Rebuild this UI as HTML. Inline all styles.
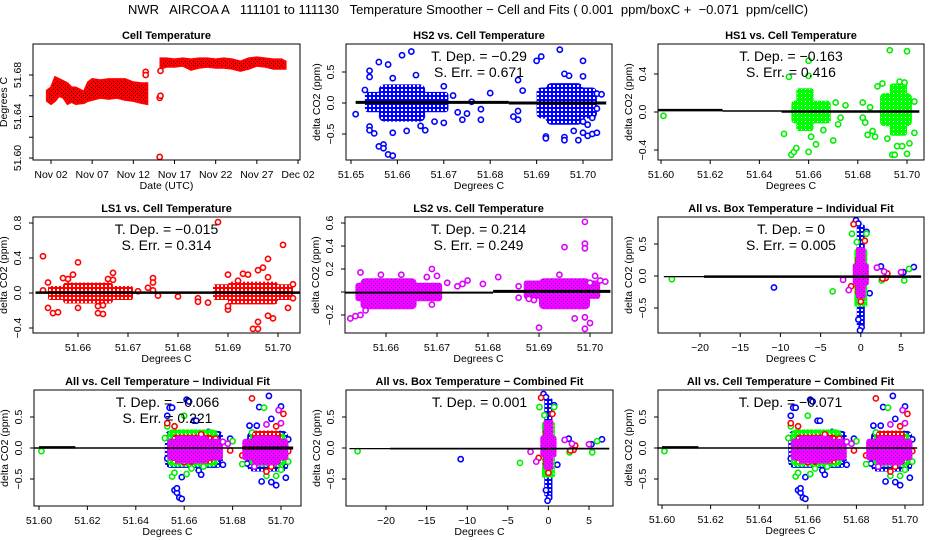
<!DOCTYPE html>
<html><head><meta charset="utf-8"><style>
html,body{margin:0;padding:0;background:#fff;width:936px;height:540px;overflow:hidden}
svg text{font-family:"Liberation Sans",sans-serif}
</style></head><body>
<svg id="chart" xmlns="http://www.w3.org/2000/svg" width="936" height="540" viewBox="0 0 936 540">
<defs>
<pattern id="pat-red1" width="4" height="4" patternUnits="userSpaceOnUse"><rect width="4" height="4" fill="#ff0000"/><rect x="1" y="1" width="1" height="1" fill="#300"/><rect x="3" y="3" width="1" height="1" fill="#300"/></pattern>
<pattern id="pat-red" width="4" height="4" patternUnits="userSpaceOnUse"><rect width="4" height="4" fill="#ff0000"/><rect x="1" y="1" width="2" height="2" fill="#fff"/></pattern>
<pattern id="pat-blue" width="4" height="4" patternUnits="userSpaceOnUse"><rect width="4" height="4" fill="#0000ff"/><rect x="1" y="1" width="2" height="2" fill="#fff"/></pattern>
<pattern id="pat-green" width="4" height="4" patternUnits="userSpaceOnUse"><rect width="4" height="4" fill="#00ff00"/><rect x="1" y="1" width="1" height="1" fill="#fff"/></pattern>
<pattern id="pat-magenta" width="4" height="4" patternUnits="userSpaceOnUse"><rect width="4" height="4" fill="#ff00ff"/><rect x="1" y="1" width="1" height="1" fill="#3030ff"/><rect x="3" y="3" width="1" height="1" fill="#3030ff"/></pattern>
</defs>
<text x="468" y="14" font-size="13" text-anchor="middle" xml:space="preserve">NWR   AIRCOA A   111101 to 111130   Temperature Smoother − Cell and Fits ( 0.001  ppm/boxC +  −0.071  ppm/cellC)</text>
</svg>
<script>
// ---------- Panel 1: cell temperature time series (day offset from Nov 01) ----------
const p1Days = [0.5,1,1.5,2,2.5,3,3.5,4,5,5.5,6,7,8,9,10,11,12,12.7];
const p1Low  = [51.655,51.652,51.655,51.660,51.658,51.652,51.654,51.652,51.653,51.655,51.656,51.658,51.657,51.658,51.656,51.655,51.653,51.652];
const p1High = [51.665,51.668,51.678,51.676,51.674,51.672,51.668,51.668,51.664,51.673,51.676,51.675,51.676,51.676,51.676,51.673,51.672,51.672];
const p1Days2 = [14.3,15,16,17,18,19,20,21,22,23,24,25,26,27,28,29,29.5];
const p1Low2  = [51.686,51.688,51.688,51.689,51.685,51.687,51.688,51.687,51.687,51.686,51.684,51.686,51.689,51.688,51.686,51.686,51.686];
const p1High2 = [51.696,51.696,51.695,51.696,51.695,51.696,51.696,51.695,51.696,51.695,51.693,51.696,51.697,51.696,51.695,51.695,51.693];
const p1OutX = [14.2,14.2,14.3,12.5,12.5,14.3];
const p1OutY = [51.601,51.658,51.660,51.683,51.680,51.684];
const p1TickLabels = ["Nov 02","Nov 07","Nov 12","Nov 17","Nov 22","Nov 27","Dec 02"];
const p1TickDays = [1,6,11,16,21,26,31];

// ---------- Scatter outliers ----------
const p2Blue = [[51.651,-0.18],[51.653,0.21],[51.654,0.52],[51.654,0.42],[51.654,-0.38],[51.654,-0.44],[51.655,-0.49],[51.656,0.66],[51.656,-0.70],[51.657,-0.67],[51.657,-0.73],[51.658,0.62],[51.658,-0.83],[51.659,-0.85],[51.659,-0.48],[51.659,0.40],[51.661,0.77],[51.662,-0.45],[51.663,0.83],[51.664,0.45],[51.665,-0.37],[51.666,-0.44],[51.668,-0.30],[51.670,0.27],[51.670,-0.32],[51.672,0.12],[51.673,-0.15],[51.674,-0.27],[51.675,-0.17],[51.676,0.02],[51.678,-0.10],[51.678,-0.27],[51.680,0.16],[51.685,-0.22],[51.686,-0.27],[51.686,0.37],[51.686,-0.13],[51.687,0.20],[51.690,0.68],[51.691,0.75],[51.692,-0.54],[51.692,-0.57],[51.695,0.86],[51.696,0.47],[51.696,-0.55],[51.696,-0.60],[51.697,0.44],[51.698,-0.45],[51.699,-0.60],[51.700,0.68],[51.700,0.43],[51.700,-0.48],[51.701,-0.53],[51.702,-0.50],[51.703,-0.48],[51.703,0.15],[51.704,0.14],[51.703,-0.09],[51.700,-0.30],[51.701,-0.35],[51.702,-0.24]];
const p2Clusters = [[51.653,51.671,-0.15,0.18],[51.656,51.666,-0.3,0.3],[51.690,51.703,-0.25,0.25],[51.692,51.700,-0.35,0.32]];
const p3Green = [[51.601,-0.04],[51.652,0.37],[51.653,-0.45],[51.654,-0.42],[51.655,-0.38],[51.650,-0.23],[51.660,0.54],[51.660,0.38],[51.660,-0.42],[51.661,-0.26],[51.663,-0.34],[51.666,-0.19],[51.670,-0.30],[51.671,0.10],[51.672,-0.13],[51.673,-0.06],[51.675,0.07],[51.682,0.10],[51.682,-0.06],[51.683,-0.11],[51.684,-0.24],[51.685,0.05],[51.686,-0.20],[51.687,-0.26],[51.688,0.27],[51.690,0.30],[51.692,-0.28],[51.693,0.65],[51.694,-0.45],[51.695,-0.45],[51.696,-0.36],[51.698,-0.36],[51.700,-0.44],[51.700,0.64],[51.701,-0.33],[51.703,-0.22],[51.703,0.11],[51.697,0.32],[51.699,0.31]];
const p3Clusters = [[51.653,51.669,-0.12,0.12],[51.655,51.662,-0.2,0.25],[51.689,51.702,-0.15,0.2],[51.693,51.700,-0.25,0.3]];
const p4Red = [[51.653,0.42],[51.653,0.03],[51.654,-0.17],[51.655,-0.23],[51.656,-0.22],[51.659,0.21],[51.660,0.35],[51.660,-0.17],[51.664,-0.15],[51.664,-0.23],[51.665,-0.24],[51.667,0.23],[51.667,0.15],[51.672,0.02],[51.674,0.06],[51.675,0.17],[51.675,0.12],[51.675,0.03],[51.676,-0.03],[51.680,-0.04],[51.684,-0.06],[51.684,-0.10],[51.686,-0.11],[51.688,0.81],[51.690,0.21],[51.690,-0.19],[51.690,-0.15],[51.693,0.22],[51.694,0.21],[51.695,-0.41],[51.696,-0.41],[51.696,-0.33],[51.696,0.26],[51.697,0.29],[51.698,0.39],[51.698,-0.26],[51.699,-0.29],[51.701,0.55],[51.702,-0.17],[51.703,0.10],[51.703,-0.06],[51.698,0.18],[51.692,0.14],[51.658,0.16],[51.657,0.17],[51.666,0.16],[51.654,0.12],[51.665,-0.14]];
const p4Clusters = [[51.654,51.671,-0.08,0.08],[51.657,51.667,-0.12,0.12],[51.687,51.703,-0.08,0.1],[51.690,51.700,-0.13,0.13]];
const p5Magenta = [[51.653,-0.23],[51.654,-0.21],[51.655,0.17],[51.655,-0.2],[51.656,-0.16],[51.659,0.15],[51.663,0.15],[51.668,0.13],[51.669,0.20],[51.669,-0.11],[51.670,0.14],[51.672,0.08],[51.674,0.05],[51.675,0.07],[51.676,0.10],[51.679,0.07],[51.682,0.13],[51.686,-0.05],[51.686,0.05],[51.688,-0.06],[51.689,-0.07],[51.690,-0.31],[51.695,0.39],[51.697,-0.23],[51.699,0.61],[51.699,0.42],[51.699,0.38],[51.699,-0.22],[51.699,-0.32],[51.700,-0.27],[51.700,0.08],[51.701,0.14],[51.702,0.10],[51.703,0.09],[51.694,0.15]];
const p5Clusters = [[51.654,51.671,-0.08,0.08],[51.655,51.666,-0.15,0.12],[51.687,51.702,-0.06,0.1],[51.690,51.700,-0.15,0.12]];
// box temperature (panels 6 & 8)
const boxGreen = [[-23.5,-0.05],[-3.5,-0.24],[2.6,-0.07],[5.4,-0.07],[6.0,0.11],[-1.1,0.66],[0.7,0.66],[-0.5,0.53]];
const boxBlue = [[-10.8,-0.18],[2.5,0.15],[5.3,0.06],[6.6,0.14],[-0.6,0.87],[0.7,0.69],[-0.3,0.82],[1.1,-0.27],[-0.3,-0.68],[0.1,-0.80],[-0.1,-0.85]];
const boxRed = [[-0.9,0.81],[0.5,0.55],[3.3,0.04],[3.1,-0.03],[2.7,-0.04],[-1.2,-0.16],[0.0,-0.40]];
const boxMagenta = [[-2.2,-0.06],[-1.5,-0.22],[2.0,0.13],[2.9,0.07],[5.0,0.06]];
const boxClBlue = [[-0.5,0.5,-0.78,0.8]];
const boxClGreen = [[-0.8,0.8,-0.48,0.42]];
const boxClRed = [[-0.7,0.6,-0.3,0.3]];
const boxClMagenta = [[-1.0,1.0,-0.15,0.2],[-0.6,0.6,-0.35,0.45]];
// cell temperature, all (panels 7 & 9)
const cellBlue = [[51.653,0.52],[51.654,0.65],[51.655,0.65],[51.656,-0.68],[51.657,-0.72],[51.657,-0.65],[51.658,-0.80],[51.659,-0.82],[51.659,-0.47],[51.661,0.78],[51.662,0.75],[51.664,0.44],[51.665,0.44],[51.666,-0.36],[51.667,-0.43],[51.670,0.26],[51.672,-0.25],[51.674,-0.17],[51.676,-0.27],[51.679,0.15],[51.687,0.36],[51.690,0.36],[51.691,0.66],[51.692,-0.54],[51.695,0.84],[51.696,0.47],[51.696,-0.55],[51.698,-0.60],[51.700,0.67],[51.702,-0.48],[51.703,0.14],[51.653,-0.17],[51.686,-0.25]];
const cellGreen = [[51.601,-0.05],[51.653,0.35],[51.655,-0.46],[51.656,-0.40],[51.660,0.52],[51.661,-0.42],[51.663,-0.33],[51.668,-0.30],[51.672,-0.14],[51.680,0.11],[51.684,-0.26],[51.688,0.25],[51.693,0.65],[51.694,-0.45],[51.698,-0.45],[51.700,-0.35],[51.703,-0.22],[51.652,0.16]];
const cellRed = [[51.653,0.40],[51.656,0.35],[51.660,-0.23],[51.663,-0.22],[51.667,0.22],[51.673,0.15],[51.679,-0.04],[51.684,-0.12],[51.688,0.80],[51.690,-0.18],[51.694,-0.38],[51.696,-0.30],[51.698,0.35],[51.701,0.55],[51.703,-0.05]];
const cellMagenta = [[51.676,0.10],[51.678,0.07],[51.699,0.61],[51.700,0.40],[51.689,-0.30],[51.694,0.38]];
const cellClBlue = [[51.652,51.676,-0.32,0.28],[51.686,51.703,-0.38,0.28]];
const cellClGreen = [[51.653,51.674,-0.3,0.3],[51.687,51.702,-0.3,0.25]];
const cellClRed = [[51.655,51.672,-0.25,0.22],[51.688,51.700,-0.28,0.28]];
const cellClMagenta = [[51.653,51.676,-0.2,0.15],[51.656,51.670,-0.25,0.2],[51.684,51.703,-0.2,0.15],[51.688,51.700,-0.28,0.2]];

const svg = document.getElementById('chart');
const NS = 'http://www.w3.org/2000/svg';
function mk(tag, attrs, parent){ const e=document.createElementNS(NS,tag); for(const k in attrs) e.setAttribute(k,attrs[k]); (parent||svg).appendChild(e); return e; }
function lin(v1,p1,v2,p2){ return v=>p1+(v-v1)*(p2-p1)/(v2-v1); }
const COL = {blue:'#0000ff', green:'#00ee00', red:'#ff0000', magenta:'#dd00ff'};

function panel(cfg){
  const g = mk('g',{});
  
  
  const b = cfg.box;
  const t = mk('text',{x:(b.l+b.r)/2,y:b.t-5,'font-size':11,'font-weight':'bold','text-anchor':'middle'},g);
  t.textContent = cfg.title;
  
  
  const body = mk('g',{},g);
  cfg.draw(body);
  const box = mk('rect',{x:b.l,y:b.t,width:b.r-b.l,height:b.b-b.t,fill:'none',stroke:'#000','stroke-width':1},g);
  
  
  cfg.xt.forEach((v,i)=>{
    const x = cfg.xs(v);
    mk('line',{x1:x,x2:x,y1:b.b,y2:b.b+4,stroke:'#000'},g);
    const tx = mk('text',{x:x,y:b.b+18,'font-size':10.5,'text-anchor':'middle'},g);
    tx.textContent = cfg.xl[i];
    
    
  });
  cfg.yt.forEach((v,i)=>{
    const y = cfg.ys(v);
    mk('line',{x1:b.l-4,x2:b.l,y1:y,y2:y,stroke:'#000'},g);
    if(cfg.yl[i]!==''){
      const ty = mk('text',{x:b.l-12,y:y,'font-size':10.5,'text-anchor':'middle',transform:`rotate(-90 ${b.l-12} ${y})`},g);
      ty.textContent = cfg.yl[i];
      
      
    }
  });
  const cx = b.l-26, cy=(b.t+b.b)/2;
  const yt = mk('text',{x:cx,y:cy,'font-size':10.5,'text-anchor':'middle',transform:`rotate(-90 ${cx} ${cy})`},g);
  yt.textContent = cfg.ytitle;
  
  
  const xt = mk('text',{x:(b.l+b.r)/2,y:b.b+29,'font-size':10.5,'text-anchor':'middle'},g);
  xt.textContent = cfg.xtitle;
  
  
  if(cfg.stats){
    cfg.stats.forEach((s,i)=>{
      const st = mk('text',{x:(b.l+b.r)/2,y:b.t+17+i*16,'font-size':14,'text-anchor':'middle','xml:space':'preserve'},g);
      st.textContent = s;
      
      
    });
  }
}
function clusters(g, cl, xs, ys, color){
  cl.forEach(c=>{
    const x0=xs(c[0]), x1=xs(c[1]), y0=ys(c[3]), y1=ys(c[2]);
    const w=Math.abs(x1-x0), h=y1-y0;
    const r = mk('rect',{x:Math.min(x0,x1),y:y0,width:w,height:h,rx:Math.min(w,h)*0.15,fill:`url(#pat-${color})`},g);
    
    
  });
}
function points(g, pts, xs, ys, color){
  pts.forEach(p=>{
    const c = mk('circle',{cx:xs(p[0]),cy:ys(p[1]),r:2.6,fill:'#fff',stroke:COL[color],'stroke-width':1.6},g);
    
    
  });
}
function fit(g, xs, ys, x0, x1, y, w){
  const l = mk('line',{x1:xs(x0),x2:xs(x1),y1:ys(y),y2:ys(y),stroke:'#000','stroke-width':w},g);
  
  
}
const cellTicks=[51.60,51.62,51.64,51.66,51.68,51.70];
const cellLabels=['51.60','51.62','51.64','51.66','51.68','51.70'];
const halfTicks=[-0.5,0,0.5], halfLabels=['−0.5','0.0','0.5'];
const yTitle='delta CO2 (ppm)';

{
  const box={l:33,r:300,t:44,b:160};
  const xs=lin(1,51,31,298), ys=lin(51.60,158,51.68,75);
  panel({name:'cell-temperature-panel',title:'Cell Temperature',box,xs,ys,
    xt:p1TickDays,xl:p1TickLabels,yt:[51.60,51.62,51.64,51.66,51.68],yl:['51.60','','51.64','','51.68'],
    ytitle:'Degrees C',xtitle:'Date (UTC)',
    draw:g=>{
      [[p1Days,p1Low,p1High],[p1Days2,p1Low2,p1High2]].forEach(s=>{
        let d='';
        s[0].forEach((v,i)=>{ d+=(i?'L':'M')+xs(v).toFixed(1)+','+ys(s[2][i]).toFixed(1); });
        for(let i=s[0].length-1;i>=0;i--) d+='L'+xs(s[0][i]).toFixed(1)+','+ys(s[1][i]).toFixed(1);
        const p=mk('path',{d:d+'Z',fill:'url(#pat-red1)',stroke:'#ff0000','stroke-width':2},g);
        
        
      });
      points(g, p1OutX.map((x,i)=>[x,p1OutY[i]]), xs, ys, 'red');
    }});
}
{
  const box={l:346,r:612,t:44,b:160};
  const xs=lin(51.65,351,51.70,583), ys=lin(0,103,0.5,72);
  panel({name:'hs2-panel',title:'HS2 vs. Cell Temperature',box,xs,ys,
    xt:[51.65,51.66,51.67,51.68,51.69,51.70],xl:['51.65','51.66','51.67','51.68','51.69','51.70'],
    yt:halfTicks,yl:halfLabels,ytitle:yTitle,xtitle:'Degrees C',stats:['T. Dep. =  −0.29','S. Err. =  0.671'],
    draw:g=>{ clusters(g,p2Clusters,xs,ys,'blue'); points(g,p2Blue,xs,ys,'blue');
      fit(g,xs,ys,51.651,51.684,0.01,3); fit(g,xs,ys,51.684,51.705,0.0,3); }});
}
{
  const box={l:658,r:924,t:44,b:160};
  const xs=lin(51.60,661,51.70,907), ys=lin(0,112,0.4,74);
  panel({name:'hs1-panel',title:'HS1 vs. Cell Temperature',box,xs,ys,
    xt:cellTicks,xl:cellLabels,yt:[-0.4,0,0.4],yl:['−0.4','0.0','0.4'],ytitle:yTitle,xtitle:'Degrees C',
    stats:['T. Dep. =  −0.163','S. Err. =  0.416'],
    draw:g=>{ clusters(g,p3Clusters,xs,ys,'green'); points(g,p3Green,xs,ys,'green');
      fit(g,xs,ys,51.599,51.625,0.02,2.5); fit(g,xs,ys,51.625,51.649,0.01,1.5); fit(g,xs,ys,51.649,51.705,0.005,2.5); }});
}
{
  const box={l:33,r:300,t:217,b:333};
  const xs=lin(51.66,78,51.70,278), ys=lin(0,293,0.8,223);
  panel({name:'ls1-panel',title:'LS1 vs. Cell Temperature',box,xs,ys,
    xt:[51.66,51.67,51.68,51.69,51.70],xl:['51.66','51.67','51.68','51.69','51.70'],
    yt:[-0.4,0,0.4,0.8],yl:['−0.4','0.0','0.4','0.8'],ytitle:yTitle,xtitle:'Degrees C',
    stats:['T. Dep. =  −0.015','S. Err. =  0.314'],
    draw:g=>{ clusters(g,p4Clusters,xs,ys,'red'); points(g,p4Red,xs,ys,'red');
      fit(g,xs,ys,51.6515,51.7045,0.005,2.5); }});
}
{
  const box={l:345,r:612,t:217,b:333};
  const xs=lin(51.66,386,51.70,590), ys=lin(0,292,0.6,223);
  panel({name:'ls2-panel',title:'LS2 vs. Cell Temperature',box,xs,ys,
    xt:[51.66,51.67,51.68,51.69,51.70],xl:['51.66','51.67','51.68','51.69','51.70'],
    yt:[-0.2,0,0.2,0.4,0.6],yl:['−0.2','','0.2','0.4','0.6'],ytitle:yTitle,xtitle:'Degrees C',
    stats:['T. Dep. =  0.214','S. Err. =  0.249'],
    draw:g=>{ clusters(g,p5Clusters,xs,ys,'magenta'); points(g,p5Magenta,xs,ys,'magenta');
      fit(g,xs,ys,51.652,51.681,-0.005,2); fit(g,xs,ys,51.681,51.704,0.005,3); }});
}
function boxDraw(xs,ys,g,thick){
  clusters(g,boxClBlue,xs,ys,'blue'); points(g,boxBlue,xs,ys,'blue');
  clusters(g,boxClGreen,xs,ys,'green'); points(g,boxGreen,xs,ys,'green');
  clusters(g,boxClRed,xs,ys,'red'); points(g,boxRed,xs,ys,'red');
  clusters(g,boxClMagenta,xs,ys,'magenta'); points(g,boxMagenta,xs,ys,'magenta');
  fit(g,xs,ys,-24.5,-19.5,-0.01,1.2); fit(g,xs,ys,-19.5,7.5,-0.01,thick);
}
function cellDraw(xs,ys,g){
  clusters(g,cellClBlue,xs,ys,'blue'); points(g,cellBlue,xs,ys,'blue');
  clusters(g,cellClGreen,xs,ys,'green'); points(g,cellGreen,xs,ys,'green');
  clusters(g,cellClRed,xs,ys,'red'); points(g,cellRed,xs,ys,'red');
  clusters(g,cellClMagenta,xs,ys,'magenta'); points(g,cellMagenta,xs,ys,'magenta');
  fit(g,xs,ys,51.598,51.705,0,1.5); fit(g,xs,ys,51.600,51.615,0.01,2.5);
}
const boxTicks=[-20,-15,-10,-5,0,5], boxLabels=['−20','−15','−10','−5','0','5'];
{
  const box={l:658,r:924,t:217,b:333};
  const xs=lin(-20,700,5,901), ys=lin(0,276,0.5,244);
  panel({name:'all-box-individual-panel',title:'All vs. Box Temperature − Individual Fit',box,xs,ys,
    xt:boxTicks,xl:boxLabels,yt:halfTicks,yl:halfLabels,ytitle:yTitle,xtitle:'Degrees C',
    stats:['T. Dep. =  0','S. Err. =  0.005'],draw:g=>boxDraw(xs,ys,g,2.5)});
}
{
  const box={l:34,r:301,t:390,b:506};
  const xs=lin(51.60,39,51.70,281), ys=lin(0,448,0.5,417);
  panel({name:'all-cell-individual-panel',title:'All vs. Cell Temperature − Individual Fit',box,xs,ys,
    xt:cellTicks,xl:cellLabels,yt:halfTicks,yl:halfLabels,ytitle:yTitle,xtitle:'Degrees C',
    stats:['T. Dep. =  −0.066','S. Err. =  0.221'],draw:g=>{cellDraw(xs,ys,g); fit(g,xs,ys,51.684,51.705,0,3);}});
}
{
  const box={l:346,r:613,t:390,b:506};
  const xs=lin(-20,386,5,589), ys=lin(0,448,0.5,417);
  panel({name:'all-box-combined-panel',title:'All vs. Box Temperature − Combined Fit',box,xs,ys,
    xt:boxTicks,xl:boxLabels,yt:halfTicks,yl:halfLabels,ytitle:yTitle,xtitle:'Degrees C',
    stats:['T. Dep. =  0.001'],draw:g=>boxDraw(xs,ys,g,1.8)});
}
{
  const box={l:658,r:923,t:390,b:505};
  const xs=lin(51.60,662,51.70,905), ys=lin(0,448,0.5,417);
  panel({name:'all-cell-combined-panel',title:'All vs. Cell Temperature − Combined Fit',box,xs,ys,
    xt:cellTicks,xl:cellLabels,yt:halfTicks,yl:halfLabels,ytitle:yTitle,xtitle:'Degrees C',
    stats:['T. Dep. =  −0.071'],draw:g=>cellDraw(xs,ys,g)});
}
</script>
</body></html>
